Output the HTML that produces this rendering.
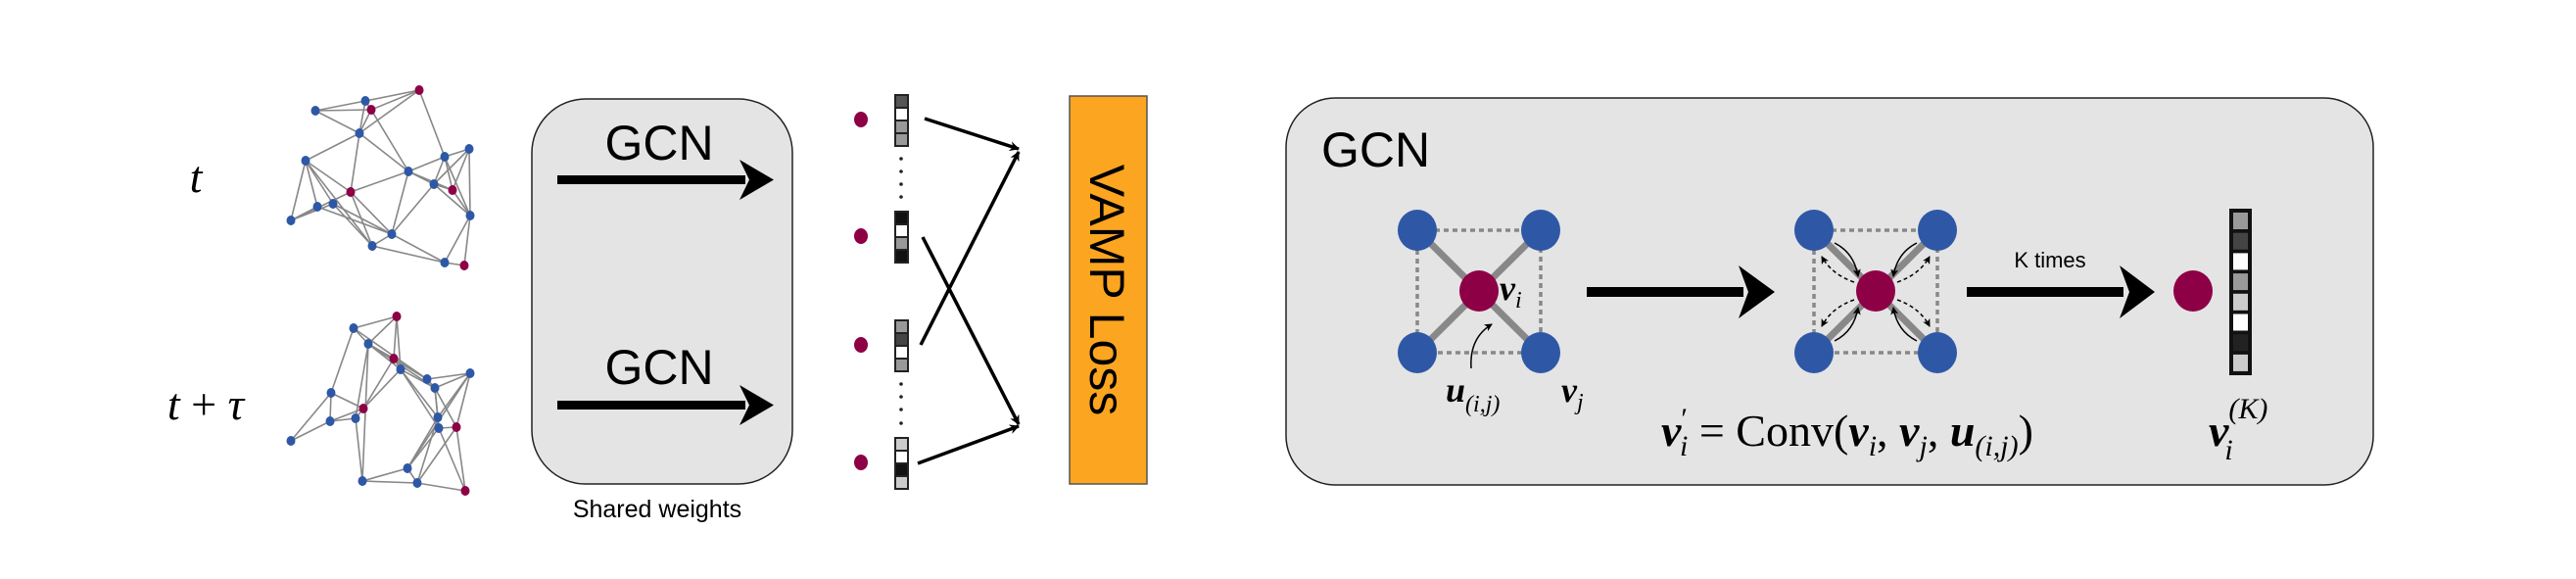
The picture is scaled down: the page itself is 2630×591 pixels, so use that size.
<!DOCTYPE html>
<html><head><meta charset="utf-8"><style>
html,body{margin:0;padding:0;background:#fff;}
svg{display:block;}
.ss{font-family:"Liberation Sans",sans-serif;}
.sr{font-family:"Liberation Serif",serif;}
</style></head><body>
<svg id="s" width="2630" height="591" viewBox="0 0 2630 591" xmlns="http://www.w3.org/2000/svg">
<defs>
<marker id="ah" markerWidth="10" markerHeight="10" refX="9" refY="5" orient="auto" markerUnits="userSpaceOnUse">
<path d="M0,0 L10,5 L0,10 L3,5 Z" fill="#000"/></marker>
<marker id="sm" markerWidth="8" markerHeight="8" refX="7" refY="4" orient="auto" markerUnits="userSpaceOnUse">
<path d="M0,0 L8,4 L0,8 L2,4 Z" fill="#000"/></marker>
<marker id="big" markerWidth="28" markerHeight="28" refX="22" refY="14" orient="auto" markerUnits="userSpaceOnUse">
<path d="M0,0 L28,14 L0,28 L6,14 Z" fill="#000"/></marker>
</defs>
<g id="g1" stroke="#888" stroke-width="1.6"></g>
<g id="g2" stroke="#888" stroke-width="1.6"></g>
<g id="n1"></g><g id="n2"></g>

<text x="200" y="196" class="sr" font-style="italic" font-size="46" text-anchor="middle">t</text>
<text x="210" y="428" class="sr" font-style="italic" font-size="46" text-anchor="middle">t <tspan font-style="normal">+</tspan> τ</text>

<rect x="543" y="101" width="266" height="393" rx="55" fill="#e4e4e4" stroke="#222" stroke-width="1.5"/>
<text x="673" y="163" class="ss" font-size="50" text-anchor="middle">GCN</text>
<rect x="569" y="179" width="192" height="9" fill="#000"/>
<path d="M755,163 L790,183.5 L755,204 L765,183.5 Z" fill="#000"/>
<text x="673" y="392" class="ss" font-size="50" text-anchor="middle">GCN</text>
<rect x="569" y="409" width="192" height="9" fill="#000"/>
<path d="M755,393 L790,413.5 L755,434 L765,413.5 Z" fill="#000"/>
<text x="671" y="528" class="ss" font-size="25" text-anchor="middle">Shared weights</text>

<g fill="#8e0046">
<ellipse cx="879" cy="122" rx="7" ry="8"/><ellipse cx="879" cy="241" rx="7" ry="8"/>
<ellipse cx="879" cy="352" rx="7" ry="8"/><ellipse cx="879" cy="472" rx="7" ry="8"/></g>
<g id="bars" stroke="#222" stroke-width="2"></g>
<g fill="#222">
<circle cx="920" cy="162" r="1.8"/><circle cx="920" cy="175" r="1.8"/><circle cx="920" cy="188" r="1.8"/><circle cx="920" cy="201" r="1.8"/>
<circle cx="920" cy="392" r="1.8"/><circle cx="920" cy="405" r="1.8"/><circle cx="920" cy="418" r="1.8"/><circle cx="920" cy="432" r="1.8"/></g>
<g stroke="#000" stroke-width="3.5" marker-end="url(#ah)">
<line x1="944" y1="121" x2="1040" y2="152"/>
<line x1="942" y1="242" x2="1040" y2="433"/>
<line x1="940" y1="352" x2="1040" y2="155"/>
<line x1="937" y1="473" x2="1040" y2="435"/></g>

<rect x="1092" y="98" width="79" height="396" fill="#fca521" stroke="#555" stroke-width="1.5"/>
<text transform="translate(1113,296) rotate(90)" class="ss" font-size="50" text-anchor="middle">VAMP Loss</text>

<rect x="1313" y="100" width="1110" height="395" rx="50" fill="#e4e4e4" stroke="#222" stroke-width="1.5"/>
<text x="1349" y="170" class="ss" font-size="50">GCN</text>

<g stroke="#888" stroke-width="3.5" stroke-dasharray="5,4" fill="none">
<rect x="1447" y="235" width="126" height="125"/>
<rect x="1852" y="235" width="126" height="125"/></g>
<g stroke="#888" stroke-width="7">
<line x1="1447" y1="235" x2="1573" y2="360"/><line x1="1573" y1="235" x2="1447" y2="360"/>
<line x1="1852" y1="235" x2="1978" y2="360"/><line x1="1978" y1="235" x2="1852" y2="360"/></g>
<g fill="#2e58a6">
<ellipse cx="1447" cy="235" rx="20" ry="21"/><ellipse cx="1573" cy="235" rx="20" ry="21"/>
<ellipse cx="1447" cy="360" rx="20" ry="21"/><ellipse cx="1573" cy="360" rx="20" ry="21"/>
<ellipse cx="1852" cy="235" rx="20" ry="21"/><ellipse cx="1978" cy="235" rx="20" ry="21"/>
<ellipse cx="1852" cy="360" rx="20" ry="21"/><ellipse cx="1978" cy="360" rx="20" ry="21"/></g>
<g fill="#8e0046">
<ellipse cx="1510" cy="297" rx="20" ry="21"/><ellipse cx="1915" cy="297" rx="20" ry="21"/>
<ellipse cx="2239" cy="297" rx="20" ry="21"/></g>
<path d="M1502,376 Q1500,345 1523,331" stroke="#000" stroke-width="1.5" fill="none" marker-end="url(#sm)"/>
<g stroke="#000" stroke-width="1.5" fill="none" marker-end="url(#sm)">
<path d="M1873,248 Q1893,258 1897,282"/><path d="M1957,248 Q1937,258 1933,282"/>
<path d="M1873,348 Q1893,338 1897,314"/><path d="M1957,348 Q1937,338 1933,314"/></g>
<g stroke="#000" stroke-width="1.5" fill="none" stroke-dasharray="4,3" marker-end="url(#sm)">
<path d="M1893,288 Q1870,280 1860,262"/><path d="M1937,288 Q1960,280 1970,262"/>
<path d="M1893,306 Q1870,314 1860,333"/><path d="M1937,306 Q1960,314 1970,333"/></g>

<text x="1531" y="306" class="sr" font-style="italic" font-weight="bold" font-size="36">v<tspan font-size="24" font-weight="normal" dy="8">i</tspan></text>
<text x="1594" y="410" class="sr" font-style="italic" font-weight="bold" font-size="36">v<tspan font-size="24" font-weight="normal" dy="8">j</tspan></text>
<text x="1476" y="410" class="sr" font-style="italic" font-weight="bold" font-size="36">u<tspan font-size="24" font-weight="normal" dy="10">(i,j)</tspan></text>

<rect x="1620" y="293" width="160" height="10" fill="#000"/>
<path d="M1775,271 L1812,298 L1775,325 L1785,298 Z" fill="#000"/>
<rect x="2008" y="293" width="160" height="10" fill="#000"/>
<path d="M2164,271 L2200,298 L2164,325 L2174,298 Z" fill="#000"/>
<text x="2093" y="273" class="ss" font-size="22" text-anchor="middle">K times</text>

<rect x="2276" y="213" width="23" height="170" fill="#111"/>
<g id="bar2"></g>

<text x="1696" y="455" class="sr" font-size="46"><tspan font-style="italic" font-weight="bold">v</tspan><tspan font-size="30" dy="-18">′</tspan><tspan font-size="30" font-style="italic" dy="28" dx="-8">i</tspan><tspan dy="-10"> = Conv(</tspan><tspan font-style="italic" font-weight="bold">v</tspan><tspan font-size="30" font-style="italic" dy="10">i</tspan><tspan dy="-10">, </tspan><tspan font-style="italic" font-weight="bold">v</tspan><tspan font-size="30" font-style="italic" dy="10">j</tspan><tspan dy="-10">, </tspan><tspan font-style="italic" font-weight="bold">u</tspan><tspan font-size="30" font-style="italic" dy="10">(i,j)</tspan><tspan dy="-10">)</tspan></text>
<text x="2255" y="455" class="sr" font-size="46"><tspan font-style="italic" font-weight="bold">v</tspan><tspan font-size="30" font-style="italic" dy="-28">(K)</tspan><tspan font-size="30" font-style="italic" dy="42" dx="-44">i</tspan></text>
</svg>
<script>
var NS="http://www.w3.org/2000/svg";
function el(p,t,a){var e=document.createElementNS(NS,t);for(var k in a)e.setAttribute(k,a[k]);p.appendChild(e);return e;}
var A=[[428,92,1],[373,103],[322,113],[379,112,1],[367,136],[312,164],[454,160],[479,152],[417,175],[443,188],[462,194,1],[358,196,1],[340,208],[324,211],[297,225],[480,220],[400,239],[380,251],[454,268],[474,271,1]];
var EA=[[1,0],[2,1],[2,3],[2,4],[3,0],[4,0],[3,4],[1,3],[1,4],[0,6],[3,8],[4,8],[4,5],[4,11],[5,14],[5,13],[5,12],[5,11],[5,17],[11,8],[11,16],[11,17],[11,14],[13,14],[12,14],[12,17],[13,16],[12,16],[8,6],[8,9],[8,10],[8,16],[6,7],[6,9],[6,10],[7,9],[7,10],[7,15],[6,15],[9,16],[9,15],[10,15],[16,18],[17,18],[18,19],[15,19],[15,18],[16,17],[9,10]];
var B=[[405,323,1],[361,335],[376,351],[402,366,1],[409,377],[436,387],[480,381],[444,396],[338,401],[371,417,1],[337,430],[363,427],[447,426],[466,436,1],[448,437],[297,450],[416,478],[370,491],[426,493],[475,501,1]];
var EB=[[0,1],[0,2],[0,3],[0,4],[1,2],[1,8],[1,5],[2,3],[2,4],[2,5],[2,7],[2,17],[2,11],[3,4],[3,5],[3,9],[4,9],[4,7],[4,12],[4,14],[5,6],[5,7],[6,7],[6,12],[6,13],[6,16],[7,12],[7,13],[7,14],[8,9],[8,10],[8,15],[9,10],[9,11],[10,15],[10,11],[11,17],[12,14],[12,16],[13,14],[13,18],[14,16],[14,19],[16,17],[16,18],[17,18],[18,19],[13,19],[12,18]];
function draw(N,E,gl,gn){var g=document.getElementById(gl),h=document.getElementById(gn);
E.forEach(function(e){el(g,"line",{x1:N[e[0]][0],y1:N[e[0]][1],x2:N[e[1]][0],y2:N[e[1]][1]});});
N.forEach(function(n){el(h,"ellipse",{cx:n[0],cy:n[1],rx:4.5,ry:5,fill:n[2]?"#8e0046":"#2e58a6"});});}
draw(A,EA,"g1","n1");draw(B,EB,"g2","n2");
var bars=[[97,["#555","#fff","#999","#999"]],[216,["#111","#fff","#999","#111"]],[327,["#999","#444","#fff","#999"]],[447,["#ccc","#fff","#111","#ccc"]]];
var bg=document.getElementById("bars");
bars.forEach(function(b){for(var i=0;i<4;i++)el(bg,"rect",{x:914,y:b[0]+i*13,width:13,height:13,fill:b[1][i]});});
var c2=["#999","#444","#fff","#999","#ccc","#fff","#222","#ccc"],g2=document.getElementById("bar2");
for(var i=0;i<8;i++)el(g2,"rect",{x:2280,y:217+i*20.7,width:15,height:17,fill:c2[i]});
</script>
</body></html>
